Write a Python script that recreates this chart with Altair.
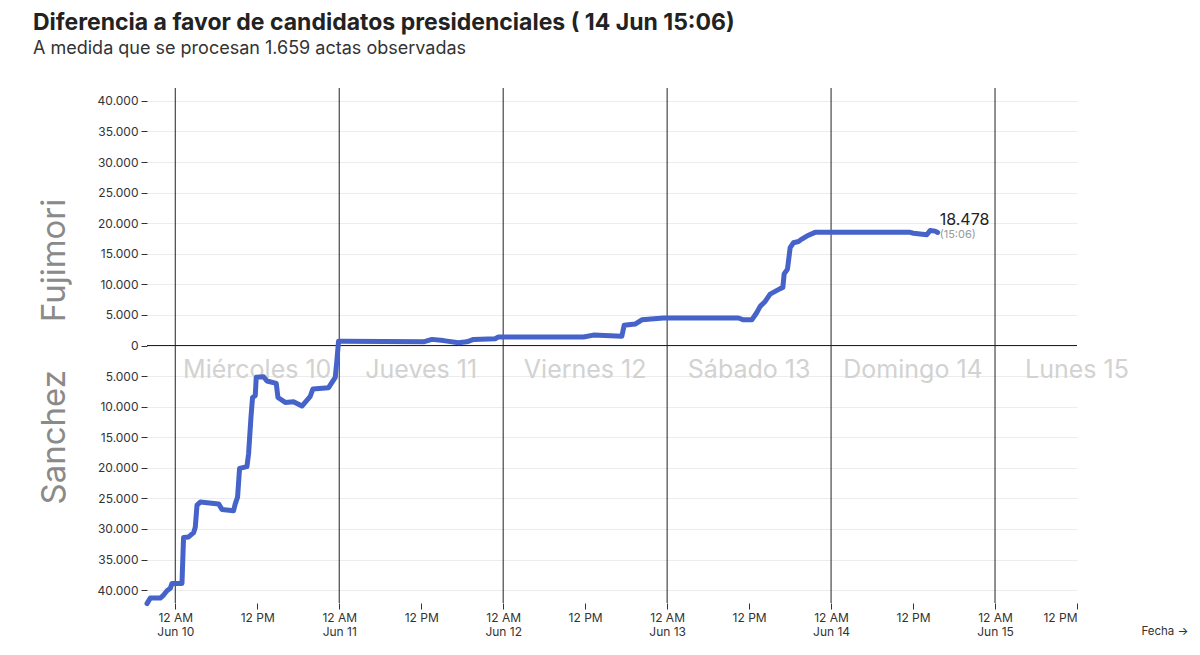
import altair as alt
import pandas as pd

# hours since 2021-06-10 00:00 and vote difference (positive = Fujimori)
hours = [-4.14, -3.66, -2.20, -1.71, -1.21, -0.73, -0.48, 0.98, 1.21, 1.95, 2.68, 2.93,
         3.18, 3.66, 6.34, 6.83, 8.53, 8.78, 9.12, 9.41, 10.49, 10.73, 11.08, 11.31,
         11.71, 11.85, 12.92, 13.42, 14.78, 15.03, 16.10, 17.31, 18.54, 19.76, 20.15,
         22.44, 23.42, 23.66, 23.90, 24.63, 36.34, 37.57, 39.27, 41.46, 42.69, 43.66,
         46.83, 47.31, 59.75, 61.21, 65.37, 65.71, 67.32, 68.30, 71.46, 82.44, 83.17,
         84.40, 85.13, 85.62, 86.35, 87.08, 88.55, 88.94, 89.13, 89.62, 90.01, 90.50,
         91.23, 91.72, 92.45, 93.66, 107.57, 108.05, 110.01, 110.50, 111.23, 111.60]
diff = [-42200, -41300, -41300, -40800, -40100, -39700, -38900, -38900, -31400, -31300,
        -30600, -29700, -26100, -25600, -25900, -26800, -27000, -25900, -24800, -20100,
        -19800, -17700, -11700, -8500, -8200, -5200, -5100, -5800, -6200, -8500, -9300,
        -9200, -9900, -8300, -7100, -6900, -5200, -2400, 700, 700, 600, 1000, 800, 450,
        600, 1000, 1100, 1400, 1400, 1700, 1500, 3300, 3500, 4200, 4500, 4500, 4200, 4200,
        5400, 6400, 7200, 8400, 9300, 9500, 11700, 12500, 16000, 16800, 17000, 17400,
        17900, 18500, 18500, 18350, 18100, 18800, 18700, 18478]

day_names = ["Miércoles 10", "Jueves 11", "Viernes 12", "Sábado 13", "Domingo 14", "Lunes 15"]
day_noons = ["2021-06-10T12:00:00Z", "2021-06-11T12:00:00Z", "2021-06-12T12:00:00Z",
             "2021-06-13T12:00:00Z", "2021-06-14T12:00:00Z", "2021-06-15T12:00:00Z"]
midnights = ["2021-06-10T00:00:00Z", "2021-06-11T00:00:00Z", "2021-06-12T00:00:00Z",
             "2021-06-13T00:00:00Z", "2021-06-14T00:00:00Z", "2021-06-15T00:00:00Z"]
tick_times = [alt.DateTime(year=2021, month=6, date=d, hours=h, utc=True)
              for d in range(10, 16) for h in (0, 12)]
y_ticks = list(range(-40000, 40001, 5000))
last_value_label = "18.478"
last_time_label = "(15:06)"
side_labels = ["Fujimori", "Sanchez"]
side_positions = [13900, -15000]

base_time = pd.Timestamp("2021-06-10T00:00:00")
times = [(base_time + pd.Timedelta(hours=h)).strftime("%Y-%m-%dT%H:%M:%SZ") for h in hours]
df = pd.DataFrame({"t": times, "v": diff})
last = df.tail(1).assign(lab=last_value_label, sub=last_time_label)
days = pd.DataFrame({"t": day_noons, "name": day_names, "v": [-4000] * 6})
mids = pd.DataFrame({"t": midnights})
sides = pd.DataFrame({"name": side_labels, "v": side_positions})

FONT = "Inter"
x_dom = [times[0], "2021-06-15T12:00:00Z"]
xscale = alt.Scale(type="utc", domain=x_dom)
yscale = alt.Scale(domain=[-42100, 42100], nice=False, zero=False)

x_axis = alt.Axis(values=tick_times, grid=False, domain=False, tickSize=6, tickColor="#333",
                  labelExpr="hours(datum.value) == 0 ? [utcFormat(datum.value, '%-I %p'), utcFormat(datum.value, '%b %-d')] : utcFormat(datum.value, '%-I %p')",
                  labelFont=FONT, labelFontSize=12, labelColor="#333", labelPadding=3,
                  labelLineHeight=14,
                  title="Fecha →", titleFont=FONT, titleFontSize=11.5, titleFontWeight="normal",
                  titleColor="#333", titleAnchor="end", titleAlign="right",
                  titleX=1041, titleY=28, titleBaseline="middle")
y_axis = alt.Axis(values=y_ticks, grid=True, gridColor="#ececec", domain=False, tickSize=6,
                  tickColor="#333", labelPadding=3, labelOverlap=False,
                  labelExpr="replace(format(abs(datum.value), ',d'), ',', '.')",
                  labelFont=FONT, labelFontSize=12, labelColor="#333", title=None)

X = lambda: alt.X("t:T", scale=xscale, axis=x_axis)
Y = lambda: alt.Y("v:Q", scale=yscale, axis=y_axis)

vrules = alt.Chart(mids).mark_rule(color="#222", strokeWidth=1).encode(x=X())

zero = alt.Chart(pd.DataFrame({"v": [0]})).mark_rule(color="#222", strokeWidth=1).encode(y=Y())

day_text = alt.Chart(days).mark_text(font=FONT, fontSize=25, color="#d2d2d2",
                                     align="center", baseline="middle", clip=False).encode(
    x=X(), y=Y(), text="name:N")

line = alt.Chart(df).mark_line(color="#4563c8", strokeWidth=5, strokeCap="round",
                               strokeJoin="round").encode(x=X(), y=Y())

side_text = alt.Chart(sides).mark_text(font=FONT, fontSize=33, color="#8a8a8a", angle=270,
                                       align="center", baseline="middle").encode(
    x=alt.value(-92), y=Y(), text="name:N")

val_text = alt.Chart(last).mark_text(font=FONT, fontSize=16, color="#222", align="left",
                                     baseline="alphabetic", dx=2, dy=-7).encode(
    x=X(), y=Y(), text="lab:N")
sub_text = alt.Chart(last).mark_text(font=FONT, fontSize=11, color="#999", align="left",
                                     baseline="middle", dx=2, dy=3).encode(
    x=X(), y=Y(), text="sub:N")

chart = alt.layer(vrules, zero, day_text, line, val_text, sub_text, side_text).properties(
    width=930, height=515, background="white",
    title=alt.Title("Diferencia a favor de candidatos presidenciales ( 14 Jun 15:06)",
                    subtitle="A medida que se procesan 1.659 actas observadas",
                    anchor="start", frame="group", dx=-114, offset=30,
                    font=FONT, fontSize=23, fontWeight="bold", color="#222",
                    subtitleFont=FONT, subtitleFontSize=18, subtitleColor="#333",
                    subtitlePadding=5),
    autosize=alt.AutoSizeParams(type="none"),
    padding={"left": 139, "top": 80, "right": 115, "bottom": 44},
).configure_view(strokeWidth=0)

chart.save("out.html", embed_options={"renderer": "svg", "actions": False})
